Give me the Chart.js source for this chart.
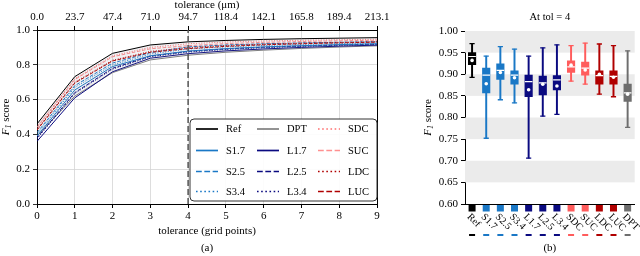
<!DOCTYPE html>
<html>
<head>
<meta charset="utf-8">
<script src="https://cdn.jsdelivr.net/npm/chart.js@4.4.1/dist/chart.umd.min.js"></script>
<style>
  html, body { margin: 0; padding: 0; background: #fff; }
  #wrap { position: relative; width: 640px; height: 256px; overflow: hidden; }
  #c1 { position: absolute; left: 0; top: 0; }
  #c2 { position: absolute; left: 400px; top: 0; }
</style>
</head>
<body>
<div id="wrap">
  <canvas id="c1" width="400" height="256"></canvas>
  <canvas id="c2" width="240" height="256"></canvas>
</div>
<script>
// ---------------- DATA (left chart) ----------------
const gridPoints = [0, 1, 2, 3, 4, 5, 6, 7, 8, 9];
const micronTickLabels = ['0.0', '23.7', '47.4', '71.0', '94.7', '118.4', '142.1', '165.8', '189.4', '213.1'];
const yTicksLeft = [0, 0.2, 0.4, 0.6, 0.8, 1.0];
const selectedTolerance = 4;

const refF1  = [0.460, 0.732, 0.866, 0.914, 0.932, 0.940, 0.946, 0.950, 0.953, 0.956];
const dptF1  = [0.390, 0.620, 0.755, 0.828, 0.855, 0.872, 0.884, 0.894, 0.902, 0.909];
const s17F1  = [0.390, 0.655, 0.790, 0.852, 0.879, 0.893, 0.903, 0.910, 0.916, 0.921];
const s25F1  = [0.410, 0.680, 0.810, 0.870, 0.903, 0.914, 0.921, 0.926, 0.930, 0.933];
const s34F1  = [0.400, 0.670, 0.800, 0.862, 0.891, 0.903, 0.911, 0.917, 0.922, 0.926];
const l17F1  = [0.360, 0.610, 0.760, 0.838, 0.864, 0.880, 0.891, 0.900, 0.907, 0.913];
const l25F1  = [0.380, 0.640, 0.780, 0.850, 0.877, 0.891, 0.901, 0.908, 0.914, 0.919];
const l34F1  = [0.375, 0.635, 0.775, 0.846, 0.873, 0.888, 0.898, 0.906, 0.912, 0.917];
const sdcF1  = [0.445, 0.720, 0.852, 0.900, 0.921, 0.931, 0.937, 0.941, 0.944, 0.947];
const sucF1  = [0.440, 0.715, 0.846, 0.892, 0.910, 0.922, 0.929, 0.934, 0.938, 0.941];
const ldcF1  = [0.430, 0.700, 0.826, 0.877, 0.899, 0.911, 0.919, 0.925, 0.929, 0.933];
const lucF1  = [0.425, 0.695, 0.822, 0.872, 0.893, 0.906, 0.915, 0.921, 0.926, 0.930];

// ---------------- DATA (right chart, at tol = 4) ----------------
const methods     = ['Ref', 'S1.7', 'S2.5', 'S3.4', 'L1.7', 'L2.5', 'L3.4', 'SDC', 'SUC', 'LDC', 'LUC', 'DPT'];
const whiskerLow  = [0.893, 0.752, 0.841, 0.834, 0.706, 0.803, 0.807, 0.884, 0.877, 0.854, 0.848, 0.777];
const quartile1   = [0.922, 0.857, 0.888, 0.877, 0.848, 0.852, 0.864, 0.904, 0.898, 0.877, 0.877, 0.837];
const medians     = [0.941, 0.898, 0.909, 0.898, 0.883, 0.880, 0.887, 0.917, 0.914, 0.897, 0.895, 0.857];
const quartile3   = [0.950, 0.914, 0.924, 0.908, 0.898, 0.896, 0.897, 0.931, 0.928, 0.908, 0.908, 0.877];
const whiskerHigh = [0.971, 0.942, 0.964, 0.958, 0.942, 0.961, 0.968, 0.966, 0.972, 0.970, 0.966, 0.954];
const means       = [0.932, 0.878, 0.904, 0.892, 0.864, 0.877, 0.873, 0.921, 0.910, 0.900, 0.893, 0.854];
const yTicksRight = [0.60, 0.65, 0.70, 0.75, 0.80, 0.85, 0.90, 0.95, 1.00];
const shadedBands = [[0.65, 0.70], [0.75, 0.80], [0.85, 0.90], [0.95, 1.00]];

// ---------------- STYLES ----------------
const FONT = '"Liberation Serif", "DejaVu Serif", serif';
const C_REF = '#000000', C_DPT = '#6e6e6e', C_S = '#1a78c6', C_L = '#0a0a80', C_SL = '#ff5c5c', C_LL = '#b00000';
const methodColors = [C_REF, C_S, C_S, C_S, C_L, C_L, C_L, C_SL, C_SL, C_LL, C_LL, C_DPT];
const DASH = [3.6, 1.6], DOT = [1, 1.6];

function pts(arr) { return gridPoints.map((x, i) => ({ x: x, y: arr[i] })); }
function lineDs(label, arr, color, dash, order) {
  return { label, data: pts(arr), borderColor: color, backgroundColor: color, borderDash: dash,
           borderWidth: 1, pointRadius: 0, tension: 0, order: order, fill: false };
}

const refDs = lineDs('Ref', refF1, C_REF, [], 0);
refDs.fill = { target: 2, above: 'rgba(120,120,140,0.10)', below: 'rgba(120,120,140,0.10)' };

const leftDatasets = [
  { label: '_tol', data: [{ x: selectedTolerance, y: 0 }, { x: selectedTolerance, y: 1 }],
    borderColor: '#555555', borderDash: [6, 3], borderWidth: 1.5, pointRadius: 0, order: -1, fill: false },
  refDs,
  lineDs('DPT', dptF1, '#808080', [], 12),
  lineDs('S1.7', s17F1, C_S, [], 5),
  lineDs('S2.5', s25F1, C_S, DASH, 6),
  lineDs('S3.4', s34F1, C_S, DOT, 7),
  lineDs('L1.7', l17F1, C_L, [], 8),
  lineDs('L2.5', l25F1, C_L, DASH, 9),
  lineDs('L3.4', l34F1, C_L, DOT, 10),
  lineDs('SDC', sdcF1, '#ff7070', DOT, 1),
  lineDs('SUC', sucF1, '#ff9090', DASH, 2),
  lineDs('LDC', ldcF1, C_LL, DOT, 3),
  lineDs('LUC', lucF1, C_LL, DASH, 4),
];

const legendColumns = [['Ref', 'S1.7', 'S2.5', 'S3.4'], ['DPT', 'L1.7', 'L2.5', 'L3.4'], ['SDC', 'SUC', 'LDC', 'LUC']];

function drawYLabel(ctx, cx, cy) {
  ctx.save();
  ctx.translate(cx, cy);
  ctx.rotate(-Math.PI / 2);
  ctx.fillStyle = '#000';
  ctx.textBaseline = 'middle';
  const fMain = 'italic 11px ' + FONT, fSub = 'italic 8px ' + FONT, fNorm = '11px ' + FONT;
  ctx.font = fMain; const w1 = ctx.measureText('F').width;
  ctx.font = fSub; const w2 = ctx.measureText('1').width;
  ctx.font = fNorm; const w3 = ctx.measureText(' score').width;
  let x = -(w1 + w2 + w3) / 2;
  ctx.textAlign = 'left';
  ctx.font = fMain; ctx.fillText('F', x, 0); x += w1;
  ctx.font = fSub; ctx.fillText('1', x, 3); x += w2;
  ctx.font = fNorm; ctx.fillText(' score', x, 0);
  ctx.restore();
}

const leftDecor = {
  id: 'leftDecor',
  afterDraw(chart) {
    const ctx = chart.ctx, ca = chart.chartArea;
    ctx.save();
    ctx.fillStyle = '#000';
    ctx.textAlign = 'center';
    ctx.textBaseline = 'middle';
    ctx.font = '11px ' + FONT;
    const mid = (ca.left + ca.right) / 2;
    ctx.fillText('tolerance (\u03bcm)', mid, 5);
    ctx.fillText('tolerance (grid points)', mid, 231);
    ctx.fillText('(a)', mid, 248);
    drawYLabel(ctx, 6, (ca.top + ca.bottom) / 2);

    // legend
    const bx = 190, by = 119, bw = 187, bh = 82, r = 4;
    ctx.beginPath();
    ctx.moveTo(bx + r, by); ctx.lineTo(bx + bw - r, by); ctx.arcTo(bx + bw, by, bx + bw, by + r, r);
    ctx.lineTo(bx + bw, by + bh - r); ctx.arcTo(bx + bw, by + bh, bx + bw - r, by + bh, r);
    ctx.lineTo(bx + r, by + bh); ctx.arcTo(bx, by + bh, bx, by + bh - r, r);
    ctx.lineTo(bx, by + r); ctx.arcTo(bx, by, bx + r, by, r);
    ctx.closePath();
    ctx.fillStyle = 'rgba(255,255,255,0.92)';
    ctx.fill();
    ctx.strokeStyle = '#333';
    ctx.lineWidth = 1;
    ctx.stroke();

    const colX = [196, 257, 318], rowY = [129, 150.5, 171.5, 191.5];
    ctx.font = '10.5px ' + FONT;
    ctx.textAlign = 'left';
    legendColumns.forEach((col, ci) => {
      col.forEach((name, ri) => {
        const ds = chart.data.datasets.find(d => d.label === name);
        const y = rowY[ri];
        ctx.save();
        ctx.strokeStyle = ds.borderColor;
        ctx.lineWidth = 1.7;
        ctx.setLineDash((ds.borderDash || []).map(v => v * 1.6));
        ctx.beginPath();
        ctx.moveTo(colX[ci], y); ctx.lineTo(colX[ci] + 22, y);
        ctx.stroke();
        ctx.restore();
        ctx.fillStyle = '#000';
        ctx.fillText(name, colX[ci] + 30, y + 0.5);
      });
    });
    ctx.restore();
  }
};

const tickFont = { family: FONT, size: 11 };

new Chart(document.getElementById('c1'), {
  type: 'line',
  data: { datasets: leftDatasets },
  options: {
    responsive: false, animation: false,
    layout: { padding: { left: 0, right: 23, top: 0, bottom: 0 } },
    plugins: { legend: { display: false }, tooltip: { enabled: false } },
    scales: {
      x: { type: 'linear', position: 'bottom', min: 0, max: 9,
           afterBuildTicks: s => { s.ticks = gridPoints.map(v => ({ value: v })); },
           ticks: { font: tickFont, color: '#000', padding: 2, maxRotation: 0 },
           grid: { color: '#d4d4d4', lineWidth: 0.8, tickLength: 4, tickColor: '#000', tickWidth: 1 },
           border: { color: '#000', width: 1 },
           afterFit: s => { s.height = 52; } },
      x2: { type: 'linear', position: 'top', min: 0, max: 9,
            afterBuildTicks: s => { s.ticks = gridPoints.map(v => ({ value: v })); },
            ticks: { font: tickFont, color: '#000', padding: 2, maxRotation: 0,
                     callback: (v) => micronTickLabels[gridPoints.indexOf(v)] },
            grid: { drawOnChartArea: false, tickLength: 4, tickColor: '#000' },
            border: { color: '#000', width: 1 },
            afterFit: s => { s.height = 30; } },
      y: { min: 0, max: 1,
           afterBuildTicks: s => { s.ticks = yTicksLeft.map(v => ({ value: v })); },
           ticks: { font: tickFont, color: '#000', padding: 3, callback: v => v.toFixed(1) },
           grid: { color: '#d4d4d4', lineWidth: 0.8, tickLength: 4, tickColor: '#000' },
           border: { color: '#000', width: 1 },
           afterFit: s => { s.width = 37; } },
      y2: { position: 'right', min: 0, max: 1,
            ticks: { display: false },
            grid: { drawOnChartArea: false, drawTicks: false },
            border: { color: '#000', width: 1 },
            afterFit: s => { s.width = 0; } }
    }
  },
  plugins: [leftDecor]
});

// ---------------- RIGHT CHART ----------------
const rightDecor = {
  id: 'rightDecor',
  beforeDatasetsDraw(chart) {
    const ctx = chart.ctx, ca = chart.chartArea, ys = chart.scales.y;
    ctx.save();
    ctx.fillStyle = '#ebebeb';
    shadedBands.forEach(([a, b]) => {
      const y1 = ys.getPixelForValue(b), y2 = ys.getPixelForValue(a);
      ctx.fillRect(ca.left, y1, ca.right - ca.left, y2 - y1);
    });
    ctx.restore();
  },
  afterDraw(chart) {
    const ctx = chart.ctx, ca = chart.chartArea, xs = chart.scales.x;
    ctx.save();
    const mid = (ca.left + ca.right) / 2;
    ctx.fillStyle = '#000';
    ctx.textAlign = 'center';
    ctx.textBaseline = 'middle';
    ctx.font = '10.5px ' + FONT;
    ctx.fillText('At tol = 4', mid, 17);
    ctx.font = '11px ' + FONT;
    ctx.fillText('(b)', mid, 248);
    drawYLabel(ctx, 28, (ca.top + ca.bottom) / 2);
    methods.forEach((m, i) => {
      const x = xs.getPixelForValue(i);
      ctx.fillStyle = methodColors[i];
      ctx.fillRect(x - 3.5, ca.bottom + 1, 7, 6.5);
      ctx.fillRect(x - 3, 234, 6, 2);
      ctx.save();
      ctx.translate(x - 3.5, 215.5);
      ctx.rotate(Math.PI / 4);
      ctx.fillStyle = '#000';
      ctx.textAlign = 'left';
      ctx.textBaseline = 'middle';
      ctx.font = '10px ' + FONT;
      ctx.fillText(m, 0, 0);
      ctx.restore();
    });
    ctx.restore();
  }
};

new Chart(document.getElementById('c2'), {
  data: {
    labels: methods,
    datasets: [
      { type: 'bar', label: 'whisker', data: methods.map((m, i) => [whiskerLow[i], whiskerHigh[i]]),
        backgroundColor: methodColors, barThickness: 1.3, grouped: false, order: 5 },
      { type: 'bar', label: 'box', data: methods.map((m, i) => [quartile1[i], quartile3[i]]),
        backgroundColor: methodColors, borderWidth: 0, barThickness: 7.5, grouped: false, order: 4 },
      { type: 'line', label: 'capLow', data: whiskerLow, showLine: false, pointStyle: 'line',
        pointRadius: 2.6, pointBorderColor: methodColors, pointBorderWidth: 1.3, order: 3 },
      { type: 'line', label: 'capHigh', data: whiskerHigh, showLine: false, pointStyle: 'line',
        pointRadius: 2.6, pointBorderColor: methodColors, pointBorderWidth: 1.3, order: 3 },
      { type: 'line', label: 'median', data: medians, showLine: false, pointStyle: 'line',
        pointRadius: 3.8, pointBorderColor: '#ffffff', pointBorderWidth: 1.2, order: 2 },
      { type: 'line', label: 'mean', data: means, showLine: false, pointStyle: 'circle',
        pointRadius: 1.8, pointBackgroundColor: '#ffffff', pointBorderColor: '#ffffff', pointBorderWidth: 0, order: 1 },
    ]
  },
  options: {
    responsive: false, animation: false,
    layout: { padding: { left: 0, right: 3, top: 31, bottom: 0 } },
    plugins: { legend: { display: false }, tooltip: { enabled: false } },
    scales: {
      x: { type: 'category', offset: true,
           ticks: { display: false },
           grid: { display: false },
           border: { color: '#000', width: 1 },
           afterFit: s => { s.height = 52; } },
      y: { min: 0.6, max: 1.0,
           afterBuildTicks: s => { s.ticks = yTicksRight.map(v => ({ value: v })); },
           ticks: { font: tickFont, color: '#000', padding: 3, callback: v => v.toFixed(2) },
           grid: { drawOnChartArea: false, tickLength: 4, tickColor: '#000' },
           border: { color: '#000', width: 1 },
           afterFit: s => { s.width = 65; } }
    }
  },
  plugins: [rightDecor]
});
</script>
</body>
</html>
